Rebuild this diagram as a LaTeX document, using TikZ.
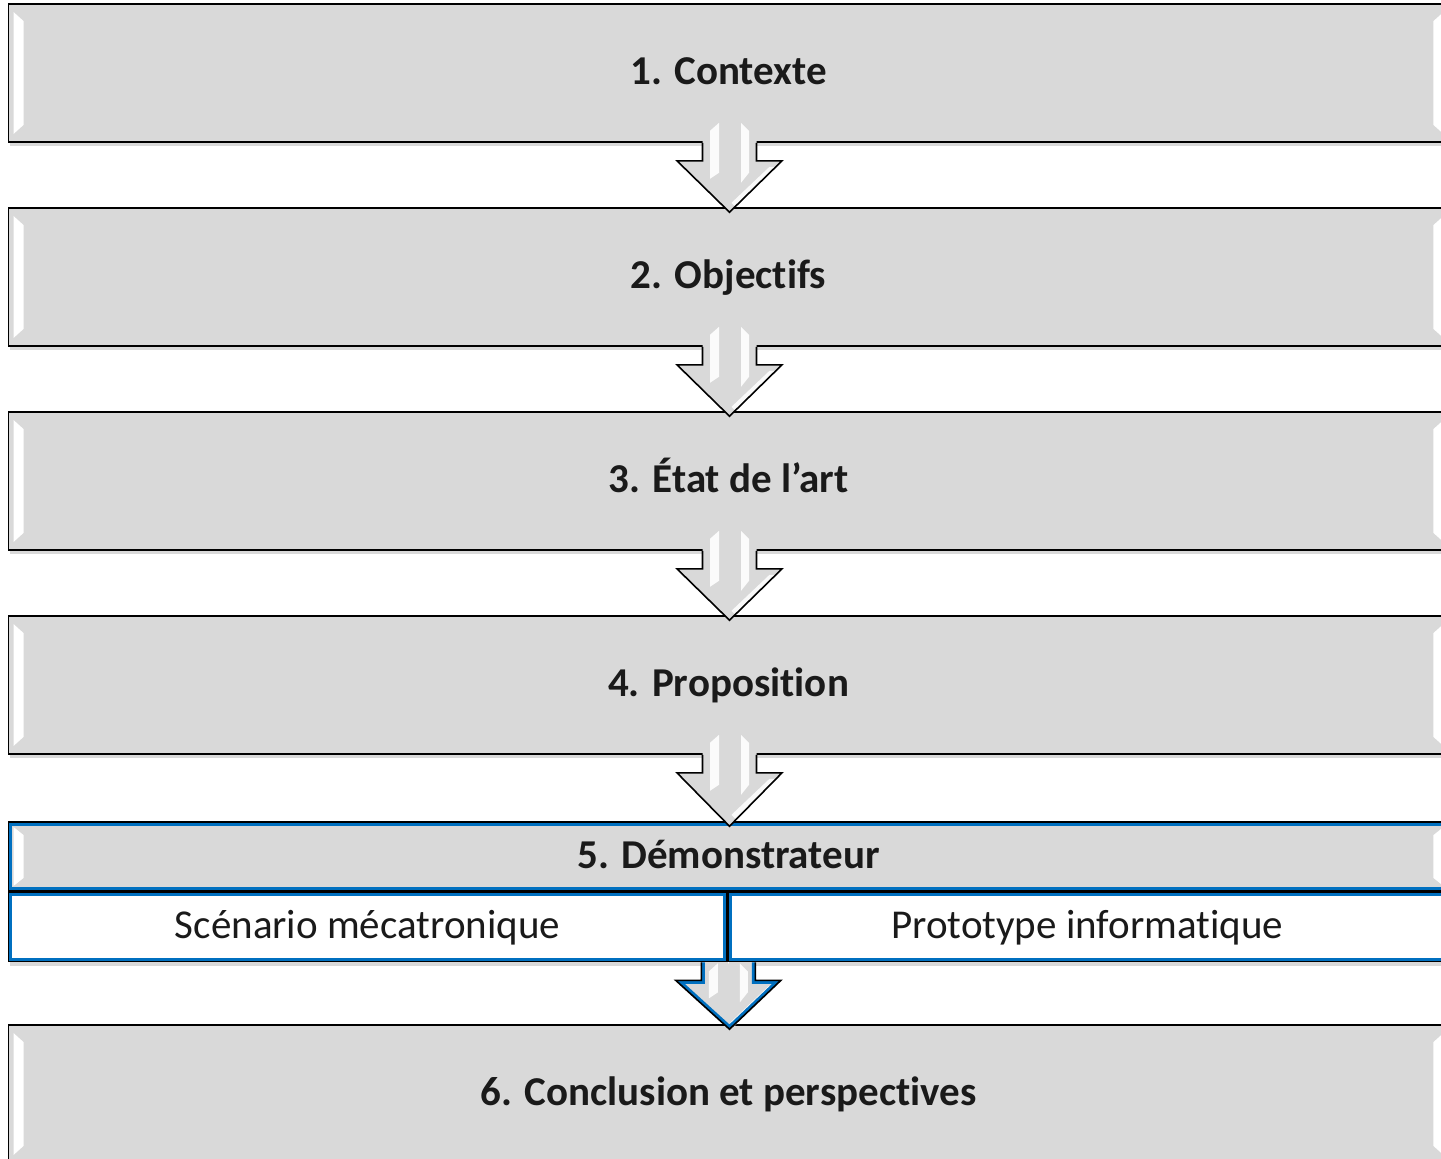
\documentclass[tikz,border=0pt]{standalone}
\usepackage{fontspec}
\setmainfont{Carlito}[Ligatures=NoCommon]
\usetikzlibrary{positioning,calc,shadows}

\definecolor{boxgray}{RGB}{217,217,217}
\definecolor{frameblue}{RGB}{0,112,192}
\definecolor{inkdark}{RGB}{26,26,26}

\tikzset{
  stagebox/.style={draw=black, line width=1.6pt, fill=boxgray, minimum width=1440pt,
    minimum height=138pt, inner sep=0pt, text=inkdark, text height=31.4pt, text depth=8pt,
    font=\fontsize{41}{49}\selectfont\bfseries,
    drop shadow={shadow xshift=1pt, shadow yshift=-4pt, opacity=0.3}},
  headbox/.style={stagebox, minimum height=69pt},
  subbox/.style={stagebox, fill=white, minimum width=718pt, minimum height=69pt,
    font=\fontsize{41}{49}\selectfont},
  gloss/.style={fill=white},
  outline/.style={draw=black, line width=1.6pt, line join=miter},
}

% white bevel on both short sides of a box
\newcommand{\bevel}[3]{%
  \fill[gloss] ($(#1.north west)+(6,-#2)$) -- ($(#1.north west)+(16,-#3)$)
    -- ($(#1.south west)+(16,#3)$) -- ($(#1.south west)+(6,#2)$) -- cycle;
  \fill[gloss] ($(#1.north east)+(-6,-#2)$) -- ($(#1.north east)+(-16,-#3)$)
    -- ($(#1.south east)+(-16,#3)$) -- ($(#1.south east)+(-6,#2)$) -- cycle;
}

% blue line just inside the black border
\newcommand{\blueframe}[1]{%
  \draw[frameblue, line width=2.8pt] ($(#1.north west)+(3,-3)$) rectangle ($(#1.south east)+(-3,3)$);
}

% block arrow from the bottom of one box to the top of the next
% #3 = k (plain) or b (blue lined); #4 = how far the shaft reaches up
\newcommand{\flowarrow}[4]{%
  \coordinate (base) at ($(#1)+(1,0)$);
  \coordinate (tip) at ($(#2)+(1,-5)$);
  \path[fill=boxgray] ($(base)+(-27,#4)$) -- ($(base)+(-27,-18)$) -- ($(base)+(-52.5,-18)$)
    -- (tip) -- ($(base)+(52.5,-18)$) -- ($(base)+(27,-18)$) -- ($(base)+(27,#4)$) -- cycle;
  % shine
  \fill[gloss, opacity=0.9] ($(base)+(-19.5,#4-8)$) -- ($(base)+(-10.5,#4)$) -- ($(base)+(-10.5,-30)$) -- ($(base)+(-19.5,-36)$) -- cycle;
  \fill[gloss, opacity=0.9] ($(base)+(11.5,#4)$) -- ($(base)+(19.5,#4-8)$) -- ($(base)+(19.5,-30)$) -- ($(base)+(11.5,-40)$) -- cycle;
  \fill[gloss, opacity=0.85] ($(base)+(40,-24)$) -- ($(base)+(46,-24)$) -- ($(base)+(6,-64)$) -- ($(base)+(2,-60)$) -- cycle;
  \ifx#3b
    \begin{scope}
      \clip ($(base)+(-27,0)$) -- ($(base)+(-27,-18)$) -- ($(base)+(-52.5,-18)$) -- (tip)
        -- ($(base)+(52.5,-18)$) -- ($(base)+(27,-18)$) -- ($(base)+(27,0)$) -- cycle;
      \draw[frameblue, line width=7pt, line join=miter] ($(base)+(-27,0)$) -- ($(base)+(-27,-18)$) -- ($(base)+(-52.5,-18)$)
        -- (tip) -- ($(base)+(52.5,-18)$) -- ($(base)+(27,-18)$) -- ($(base)+(27,0)$);
    \end{scope}
  \fi
  \draw[outline] ($(base)+(-27,0)$) -- ($(base)+(-27,-18)$) -- ($(base)+(-52.5,-18)$)
    -- (tip) -- ($(base)+(52.5,-18)$) -- ($(base)+(27,-18)$) -- ($(base)+(27,0)$);
}

\begin{document}
\begin{tikzpicture}[x=1pt, y=1pt]
  \useasboundingbox (0,0) rectangle (1441,-1159);
  \clip (0,0) rectangle (1441,-1159);

  % --- STAGES ---
  \node[stagebox] (c1) at (728.5,-73) {1. Contexte};
  \node[stagebox, below=64.4pt of c1] (c2) {2. Objectifs};
  \node[stagebox, below=64.4pt of c2] (c3) {3. État de l’art};
  \node[stagebox, below=64.4pt of c3] (c4) {4. Proposition};

  % demonstrator: title row and two halves
  \node[headbox, below=66.4pt of c4] (d5) {5. Démonstrateur};
  \node[subbox, below=0pt of d5.south west, anchor=north west] (s1) {Scénario mécatronique};
  \node[subbox, right=0pt of s1] (s2) {Prototype informatique};

  \node[stagebox, below=132.4pt of d5] (c6) {6. Conclusion et perspectives};

  % --- BEVELS AND FRAMES ---
  \foreach \b in {c1,c2,c3,c4,c6} {\bevel{\b}{9}{18}}
  \blueframe{d5}
  \blueframe{s1}
  \blueframe{s2}
  \bevel{d5}{6}{14}

  % --- ARROWS ---
  \flowarrow{c1.south}{c2.north}{k}{20}
  \flowarrow{c2.south}{c3.north}{k}{20}
  \flowarrow{c3.south}{c4.north}{k}{20}
  \flowarrow{c4.south}{d5.north}{k}{20}
  \flowarrow{s1.south east}{c6.north}{b}{-1}
\end{tikzpicture}
\end{document}
